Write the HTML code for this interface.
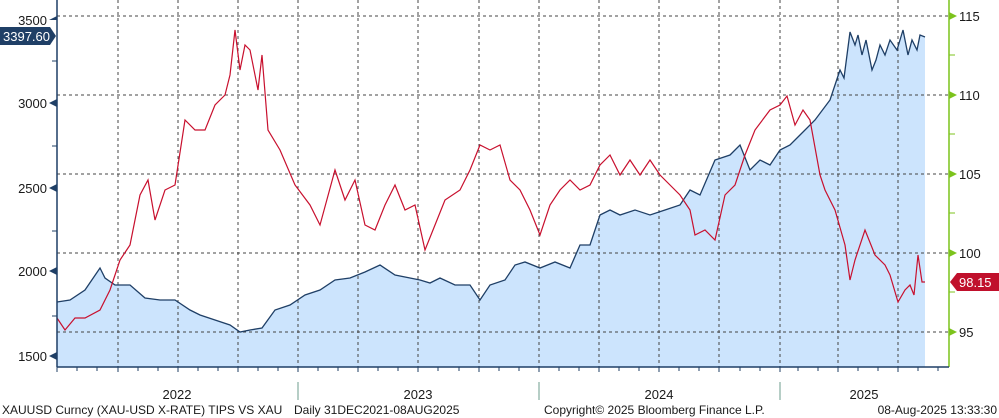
<!DOCTYPE html>
<html><head><meta charset="utf-8"><style>
body{margin:0;background:#fff;}
svg{display:block;font-family:"Liberation Sans",sans-serif;}
</style></head><body>
<svg width="999" height="418" viewBox="0 0 999 418" xmlns="http://www.w3.org/2000/svg">
<rect width="999" height="418" fill="#fff"/>
<!-- gold fill -->
<path fill="#cce4fd" d="M57,367 L57,302 70,300 85,290 100,268 105,278 115,285 130,285 145,298 160,300 175,300 190,310 200,315 215,320 230,325 240,332 250,330 262,328 275,310 290,305 305,295 320,290 335,280 350,278 365,272 380,265 395,275 410,278 420,280 430,283 440,278 455,285 470,285 480,300 490,285 505,280 515,265 525,262 540,268 555,262 570,268 580,245 590,245 600,215 610,210 620,215 635,210 650,215 665,210 680,205 690,190 700,195 715,160 730,155 740,145 750,170 760,160 770,165 780,150 790,145 800,135 815,120 830,100 840,70 844,78 850,32 855,45 858,35 862,55 866,40 872,70 876,60 880,45 885,55 890,40 897,50 903,30 908,55 912,40 917,50 920,35 925,37 L925,367 Z"/>
<!-- grid -->
<g stroke="#444" stroke-width="1" stroke-dasharray="3,3">
<line x1="57" y1="16" x2="949" y2="16"/><line x1="57" y1="95" x2="949" y2="95"/><line x1="57" y1="174" x2="949" y2="174"/><line x1="57" y1="253" x2="949" y2="253"/><line x1="57" y1="332" x2="949" y2="332"/>
<line x1="118" y1="0" x2="118" y2="367"/><line x1="178" y1="0" x2="178" y2="367"/><line x1="238" y1="0" x2="238" y2="367"/><line x1="298" y1="0" x2="298" y2="367"/><line x1="358" y1="0" x2="358" y2="367"/><line x1="418" y1="0" x2="418" y2="367"/><line x1="479" y1="0" x2="479" y2="367"/><line x1="539" y1="0" x2="539" y2="367"/><line x1="599" y1="0" x2="599" y2="367"/><line x1="659" y1="0" x2="659" y2="367"/><line x1="719" y1="0" x2="719" y2="367"/><line x1="780" y1="0" x2="780" y2="367"/><line x1="838" y1="0" x2="838" y2="367"/><line x1="898" y1="0" x2="898" y2="367"/>
</g>
<!-- gold line -->
<polyline fill="none" stroke="#1f3f66" stroke-width="1.3" points="57,302 70,300 85,290 100,268 105,278 115,285 130,285 145,298 160,300 175,300 190,310 200,315 215,320 230,325 240,332 250,330 262,328 275,310 290,305 305,295 320,290 335,280 350,278 365,272 380,265 395,275 410,278 420,280 430,283 440,278 455,285 470,285 480,300 490,285 505,280 515,265 525,262 540,268 555,262 570,268 580,245 590,245 600,215 610,210 620,215 635,210 650,215 665,210 680,205 690,190 700,195 715,160 730,155 740,145 750,170 760,160 770,165 780,150 790,145 800,135 815,120 830,100 840,70 844,78 850,32 855,45 858,35 862,55 866,40 872,70 876,60 880,45 885,55 890,40 897,50 903,30 908,55 912,40 917,50 920,35 925,37"/>
<!-- TIPS line -->
<polyline fill="none" stroke="#c8102e" stroke-width="1.2" points="57,318 65,330 75,318 85,318 100,310 110,290 120,260 130,245 140,195 148,180 155,220 165,190 175,185 185,120 195,130 205,130 215,105 225,95 230,75 235,30 240,70 245,45 250,50 258,90 262,55 268,130 280,150 295,185 310,205 320,225 335,170 345,200 355,180 365,225 375,230 385,205 395,185 405,210 415,205 425,250 435,225 445,200 460,190 470,170 480,145 490,150 500,145 510,180 520,190 530,210 540,235 550,205 560,190 570,180 580,190 590,185 600,165 610,155 620,175 630,160 640,175 650,160 660,175 670,185 680,195 690,210 695,235 705,230 715,240 725,195 735,185 745,155 755,130 770,110 780,105 787,96 795,125 803,110 810,120 820,175 825,190 835,210 845,245 850,280 855,260 865,230 875,255 885,265 890,275 898,302 905,290 910,285 914,295 918,255 922,282 925,282"/>
<!-- axes -->
<line x1="57" y1="0" x2="57" y2="367" stroke="#1f3f66" stroke-width="1.5"/>
<line x1="949" y1="0" x2="949" y2="367" stroke="#7cc31c" stroke-width="1.5"/>
<line x1="57" y1="367" x2="949" y2="367" stroke="#1f3f66" stroke-width="1.5"/>
<g stroke="#1f3f66" stroke-width="1">
<line x1="57" y1="367" x2="57" y2="372"/><line x1="77" y1="367" x2="77" y2="371"/><line x1="97" y1="367" x2="97" y2="371"/><line x1="118" y1="367" x2="118" y2="372"/><line x1="138" y1="367" x2="138" y2="371"/><line x1="158" y1="367" x2="158" y2="371"/><line x1="178" y1="367" x2="178" y2="372"/><line x1="198" y1="367" x2="198" y2="371"/><line x1="218" y1="367" x2="218" y2="371"/><line x1="238" y1="367" x2="238" y2="372"/><line x1="258" y1="367" x2="258" y2="371"/><line x1="278" y1="367" x2="278" y2="371"/><line x1="298" y1="367" x2="298" y2="372"/><line x1="318" y1="367" x2="318" y2="371"/><line x1="338" y1="367" x2="338" y2="371"/><line x1="358" y1="367" x2="358" y2="372"/><line x1="378" y1="367" x2="378" y2="371"/><line x1="398" y1="367" x2="398" y2="371"/><line x1="418" y1="367" x2="418" y2="372"/><line x1="438" y1="367" x2="438" y2="371"/><line x1="459" y1="367" x2="459" y2="371"/><line x1="479" y1="367" x2="479" y2="372"/><line x1="499" y1="367" x2="499" y2="371"/><line x1="519" y1="367" x2="519" y2="371"/><line x1="539" y1="367" x2="539" y2="372"/><line x1="559" y1="367" x2="559" y2="371"/><line x1="579" y1="367" x2="579" y2="371"/><line x1="599" y1="367" x2="599" y2="372"/><line x1="619" y1="367" x2="619" y2="371"/><line x1="639" y1="367" x2="639" y2="371"/><line x1="659" y1="367" x2="659" y2="372"/><line x1="679" y1="367" x2="679" y2="371"/><line x1="699" y1="367" x2="699" y2="371"/><line x1="719" y1="367" x2="719" y2="372"/><line x1="740" y1="367" x2="740" y2="371"/><line x1="760" y1="367" x2="760" y2="371"/><line x1="780" y1="367" x2="780" y2="372"/><line x1="798" y1="367" x2="798" y2="371"/><line x1="818" y1="367" x2="818" y2="371"/><line x1="838" y1="367" x2="838" y2="372"/><line x1="858" y1="367" x2="858" y2="371"/><line x1="878" y1="367" x2="878" y2="371"/><line x1="898" y1="367" x2="898" y2="372"/><line x1="918" y1="367" x2="918" y2="371"/><line x1="938" y1="367" x2="938" y2="371"/>
<line x1="52" y1="61" x2="57" y2="61"/><line x1="52" y1="146" x2="57" y2="146"/><line x1="52" y1="231" x2="57" y2="231"/><line x1="52" y1="316" x2="57" y2="316"/>
</g>
<g stroke="#6c9c8c" stroke-width="1"><line x1="298" y1="382" x2="298" y2="400"/><line x1="539" y1="382" x2="539" y2="400"/><line x1="780" y1="382" x2="780" y2="400"/></g>
<g stroke="#7cc31c"><line x1="949" y1="55" x2="955" y2="55"/><line x1="949" y1="134" x2="955" y2="134"/><line x1="949" y1="213" x2="955" y2="213"/><line x1="949" y1="292" x2="955" y2="292"/></g>
<!-- left tick arrows & labels -->
<g fill="#1f3f66"><path d="M49,20 L57,16 57,20 Z"/><path d="M49,103 L57,99 57,107 Z"/><path d="M49,188 L57,184 57,192 Z"/><path d="M49,271 L57,267 57,275 Z"/><path d="M49,356 L57,352 57,360 Z"/></g>
<g font-size="13" fill="#1a1a1a" text-anchor="end">
<text x="47" y="25">3500</text><text x="47" y="108">3000</text><text x="47" y="193">2500</text><text x="47" y="276">2000</text><text x="47" y="361">1500</text>
</g>
<g fill="#7cc31c"><path d="M949,12 L957,16 949,20 Z"/><path d="M949,91 L957,95 949,99 Z"/><path d="M949,170 L957,174 949,178 Z"/><path d="M949,249 L957,253 949,257 Z"/><path d="M949,328 L957,332 949,336 Z"/></g>
<g font-size="13" fill="#1a1a1a">
<text x="959" y="21">115</text><text x="959" y="100">110</text><text x="959" y="179">105</text><text x="959" y="258">100</text><text x="959" y="337">95</text>
</g>
<!-- value tags -->
<path d="M0,27 L50,27 56,36 50,45 0,45 Z" fill="#1f3f66"/>
<text x="3" y="41" font-size="13" fill="#fff">3397.60</text>
<path d="M950,282 L957,273 999,273 999,291 957,291 Z" fill="#c0102c"/>
<text x="959" y="287" font-size="13" fill="#fff">98.15</text>
<!-- year labels -->
<g font-size="13" fill="#1a1a1a" text-anchor="middle">
<text x="177" y="399">2022</text><text x="418" y="399">2023</text><text x="659" y="399">2024</text><text x="864" y="399">2025</text>
</g>
<g font-size="12" fill="#1a1a1a">
<text x="2" y="414">XAUUSD Curncy (XAU-USD X-RATE) TIPS VS XAU</text>
<text x="294" y="414">Daily 31DEC2021-08AUG2025</text>
<text x="544" y="414">Copyright© 2025 Bloomberg Finance L.P.</text>
<text x="997" y="414" text-anchor="end">08-Aug-2025 13:33:30</text>
</g>
</svg>
</body></html>
